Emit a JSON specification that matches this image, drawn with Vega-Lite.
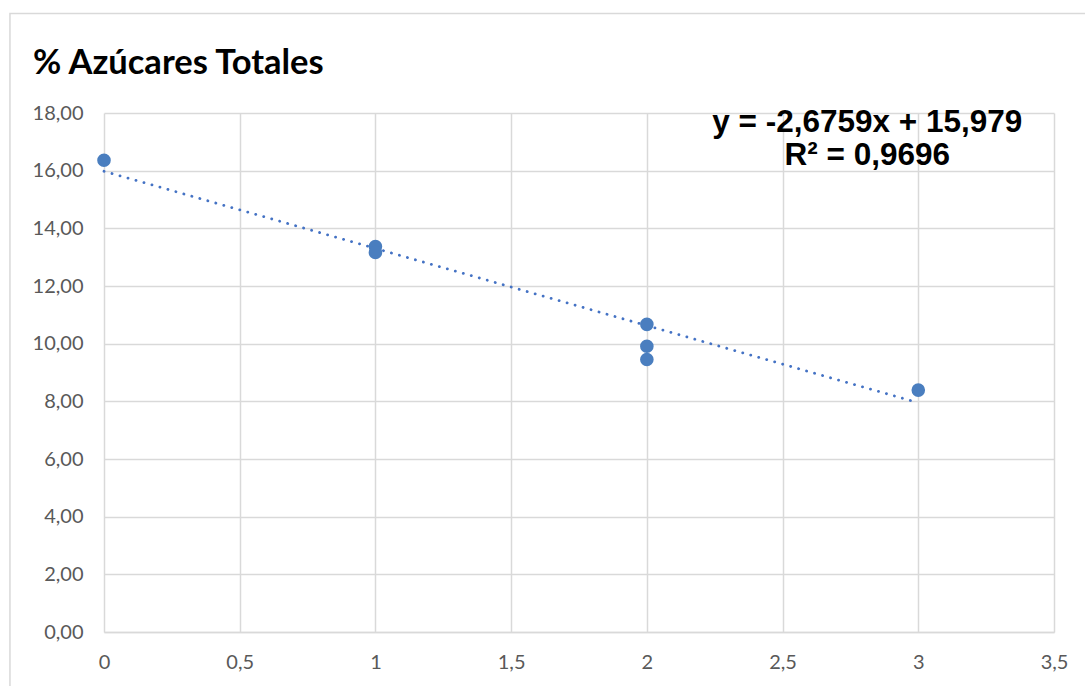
{
  "$schema": "https://vega.github.io/schema/vega-lite/v6.json",
  "width": 950,
  "height": 519,
  "autosize": "none",
  "padding": {"left": 104, "top": 113, "right": 31, "bottom": 54},
  "background": "white",
  "datasets": {
    "points": [
      {"dias": 0, "azucares": 16.36},
      {"dias": 1, "azucares": 13.37},
      {"dias": 1, "azucares": 13.16},
      {"dias": 2, "azucares": 10.67},
      {"dias": 2, "azucares": 9.91},
      {"dias": 2, "azucares": 9.45},
      {"dias": 3, "azucares": 8.39}
    ],
    "trend": [
      {"dias": 0, "azucares": 15.979},
      {"dias": 3, "azucares": 7.9513}
    ],
    "frame": [{"name": "chart"}],
    "title": [{"text": "% Azúcares Totales"}],
    "label": [{"text": ["y = -2,6759x + 15,979", "R² = 0,9696"]}]
  },
  "layer": [
    {
      "data": {"name": "frame"},
      "mark": {"type": "rect", "fill": null, "stroke": "#d9d9d9", "strokeWidth": 1.5, "clip": false},
      "encoding": {
        "x": {"datum": -0.3465, "type": "quantitative", "scale": {"domain": [0, 3.5], "nice": false, "zero": false}},
        "x2": {"datum": 5},
        "y": {"datum": 21.45, "type": "quantitative", "scale": {"domain": [0, 18], "nice": false, "zero": false}},
        "y2": {"datum": -5}
      }
    },
    {
      "data": {"name": "trend"},
      "mark": {"type": "line", "color": "#4472C4", "strokeWidth": 2.8, "strokeDash": [0.1, 8.2], "strokeCap": "round"},
      "encoding": {
        "x": {"field": "dias", "type": "quantitative"},
        "y": {"field": "azucares", "type": "quantitative"}
      }
    },
    {
      "data": {"name": "points"},
      "mark": {"type": "circle", "size": 185, "color": "#4a7ebf", "opacity": 1},
      "encoding": {
        "x": {
          "field": "dias",
          "type": "quantitative",
          "axis": {
            "title": null,
            "values": [0, 0.5, 1, 1.5, 2, 2.5, 3, 3.5],
            "labelExpr": "replace(toString(datum.value), '.', ',')",
            "labelPadding": 20,
            "labelFlush": false,
            "domain": true,
            "domainColor": "#d9d9d9",
            "domainWidth": 1.5
          }
        },
        "y": {
          "field": "azucares",
          "type": "quantitative",
          "axis": {
            "title": null,
            "values": [0, 2, 4, 6, 8, 10, 12, 14, 16, 18],
            "labelExpr": "replace(format(datum.value, '.2f'), '.', ',')",
            "labelPadding": 21,
            "labelFlush": false
          }
        }
      }
    },
    {
      "data": {"name": "label"},
      "mark": {
        "type": "text",
        "font": "Liberation Sans",
        "fontSize": 31.5,
        "fontWeight": "bold",
        "color": "#000000",
        "align": "center",
        "baseline": "alphabetic",
        "lineHeight": 33,
        "clip": false
      },
      "encoding": {
        "x": {"datum": 2.812, "type": "quantitative"},
        "y": {"datum": 17.33, "type": "quantitative"},
        "text": {"field": "text"}
      }
    },
    {
      "data": {"name": "title"},
      "mark": {
        "type": "text",
        "font": "Lato",
        "fontSize": 34.5,
        "fontWeight": "bold",
        "color": "#000000",
        "align": "left",
        "baseline": "alphabetic",
        "clip": false
      },
      "encoding": {
        "x": {"datum": -0.2617, "type": "quantitative"},
        "y": {"datum": 19.36, "type": "quantitative"},
        "text": {"field": "text"}
      }
    }
  ],
  "config": {
    "view": {"stroke": null},
    "axis": {
      "grid": true,
      "gridColor": "#d9d9d9",
      "gridWidth": 1.5,
      "ticks": false,
      "domain": false,
      "labelFont": "Lato",
      "labelFontSize": 20,
      "labelColor": "#595959"
    }
  }
}
